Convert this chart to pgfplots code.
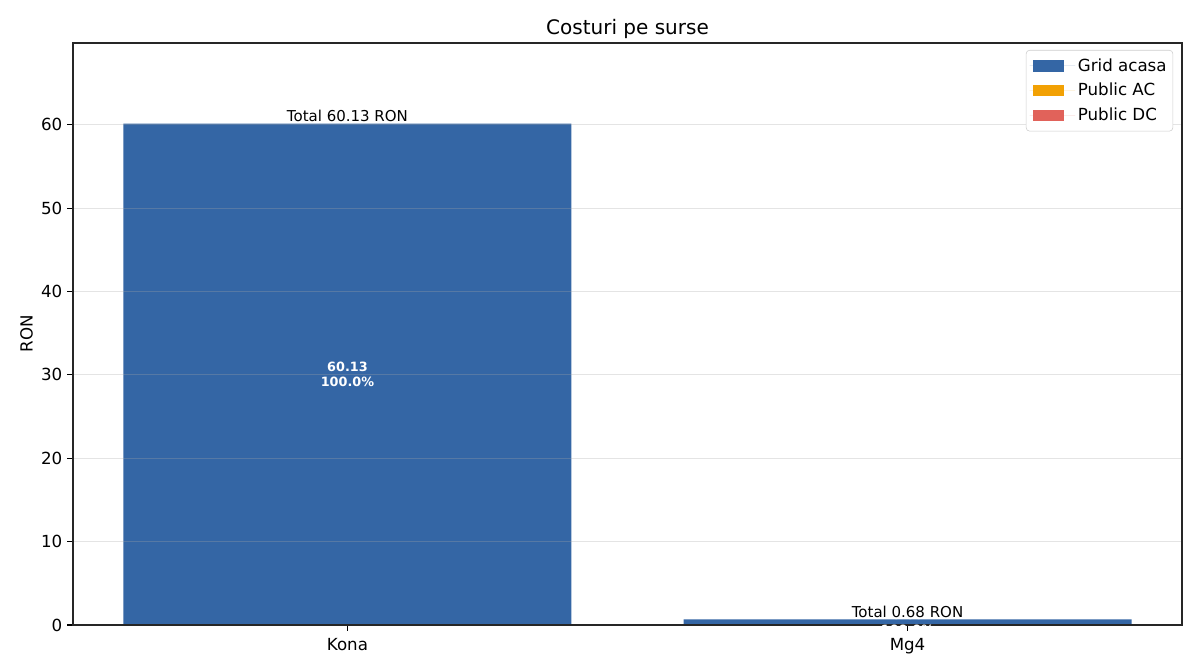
\documentclass[border=0pt]{standalone}
\usepackage{pgfplots}
\pgfplotsset{compat=1.18}
\usepackage{fontspec}
\setmainfont{DejaVu Sans}
\definecolor{cgrid}{HTML}{3466A5}
\definecolor{cac}{HTML}{F2A104}
\definecolor{cdc}{HTML}{E1625A}
\begin{document}
\begin{tikzpicture}[x=1pt,y=1pt]
\path[use as bounding box] (-52.56pt,-33.84pt) rectangle (811.44pt,450pt);
\begin{axis}[
  scale only axis,
  width=798.48pt, height=419.04pt,
  at={(0,0)}, anchor=south west,
  ybar stacked, bar width=0.8,
  xmin=-0.49, xmax=1.49, ymin=0, ymax=69.8,
  xtick={0,1}, xticklabels={Kona,Mg4},
  ytick={0,10,20,30,40,50,60},
  /pgf/number format/assume math mode=true,
  tick label style={font=\fontsize{12}{14}\selectfont},
  xticklabel style={yshift=-2pt},
  tick align=outside, tick style={black, line width=0.8pt},
  major tick length=4.2pt,
  xtick pos=bottom, ytick pos=left,
  axis on top,
  ymajorgrids, grid style={gray!70, opacity=0.3, line width=0.8pt},
  axis line style={line width=0.8pt, black!85},
  ylabel={RON}, ylabel style={font=\fontsize{12}{14}\selectfont, yshift=-1pt},
  title={Costuri pe surse}, title style={font=\fontsize{14.4}{16}\selectfont, yshift=-6.5pt},
  legend style={at={(0.992,0.988)}, anchor=north east, draw=black!20, rounded corners=2.5pt,
    font=\fontsize{12}{14}\selectfont, row sep=3.2pt, inner xsep=2.5pt, inner ysep=4pt, fill=white,
    nodes={inner xsep=2pt}},
  legend cell align=left,
  legend image code/.code={\path (-2.7pt,0pt) -- (30pt,0pt);\fill[#1, sharp corners] (0pt,-4pt) rectangle (22pt,4pt);},
]
\addplot[fill=cgrid, draw=none] coordinates {(0,60.13) (1,0.68)};
\addplot[fill=cac, draw=none] coordinates {(0,0) (1,0)};
\addplot[fill=cdc, draw=none] coordinates {(0,0) (1,0)};
\legend{Grid acasa, Public AC, Public DC}
\coordinate (k) at (axis cs:0,30.065);
\coordinate (m) at (axis cs:1,0.34);
\coordinate (kt) at (axis cs:0,60.13);
\coordinate (mt) at (axis cs:1,0.68);
\end{axis}
\node[font=\fontsize{9.2}{11}\selectfont\bfseries, text=white, align=center, inner sep=0pt] at (k) {60.13\\100.0\%};
\node[font=\fontsize{9.2}{11}\selectfont\bfseries, text=white, align=center, inner sep=0pt] at (m) {0.68\\100.0\%};
\node[font=\fontsize{10.8}{12}\selectfont, anchor=south, inner sep=1pt] at (kt) {Total 60.13 RON};
\node[font=\fontsize{10.8}{12}\selectfont, anchor=south, inner sep=1pt] at (mt) {Total 0.68 RON};
\end{tikzpicture}
\end{document}
